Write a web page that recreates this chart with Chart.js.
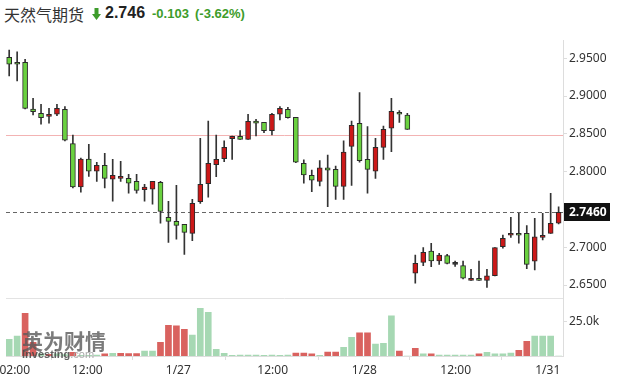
<!DOCTYPE html>
<html>
<head>
<meta charset="utf-8">
<script src="https://cdn.jsdelivr.net/npm/chart.js@4.4.0/dist/chart.umd.min.js"></script>
<style>
html, body { margin: 0; padding: 0; background: #fff; width: 625px; height: 392px; overflow: hidden; position: relative; }
#cv { position: absolute; left: -30px; top: 30px; }
.t { position: absolute; white-space: nowrap; }
</style>
</head>
<body>
<div class="t" style="left:4px;top:6px;font:16px/16px 'Noto Sans CJK SC';color:#333">天然气期货</div>
<svg class="t" style="left:92px;top:8px" width="9" height="12" viewBox="0 0 9 12"><path d="M2.5 0h4v6H9L4.5 12 0 6h2.5z" fill="#3d9c2b"/></svg>
<div class="t" style="left:105px;top:5px;font:bold 16px/16px 'Liberation Sans';color:#222">2.746</div>
<div class="t" style="left:152px;top:7px;font:bold 13px/13px 'Liberation Sans';color:#3d9c2b">-0.103</div>
<div class="t" style="left:195px;top:7px;font:bold 13px/13px 'Liberation Sans';color:#3d9c2b">(-3.62%)</div>
<canvas id="cv" width="655" height="362"></canvas>
<div class="t" style="left:22px;top:330px;font:bold 21px/21px 'Noto Sans CJK SC';color:rgba(90,90,90,0.8)">英为财情</div>
<div class="t" style="left:22px;top:349px;font:bold 11px/11px 'Liberation Sans';color:rgba(70,70,70,0.85)">Investing<span style="font-weight:normal;color:#aaa">.com</span></div>
<script>
// hourly candles, oldest first
const opens = [2.9513,2.9447,2.9447,2.8829,2.8772,2.8732,2.8759,2.8825,2.8370,2.7797,
  2.8167,2.8005,2.8084,2.7899,2.7912,2.7912,2.7872,2.7760,2.7767,2.7859,
  2.7396,2.7343,2.7303,2.7184,2.7602,2.7841,2.8092,2.8171,2.8436,2.8468,
  2.8428,2.8670,2.8653,2.8542,2.8759,2.8825,2.8719,2.8111,2.7952,2.7872,
  2.8052,2.8031,2.7806,2.8335,2.8640,2.8163,2.8005,2.8322,2.8574,2.8785,
  2.8750,2.6655,2.6800,2.6950,2.6818,2.6888,2.6775,2.6756,2.6562,2.6589,
  2.6562,2.6623,2.7006,2.7158,2.7184,2.7184,2.6814,2.7131,2.7184,2.7317];
const highs = [2.9610,2.9587,2.9487,2.8971,2.8891,2.8838,2.8891,2.8860,2.8485,2.8181,
  2.8362,2.8124,2.8243,2.8163,2.8137,2.7965,2.7965,2.7833,2.7872,2.7872,
  2.7608,2.7819,2.7303,2.7634,2.8441,2.8670,2.8485,2.8409,2.8472,2.8542,
  2.8759,2.8693,2.8653,2.8772,2.8860,2.8852,2.8719,2.8156,2.8022,2.8145,
  2.8220,2.8075,2.8409,2.8670,2.9045,2.8595,2.8441,2.8604,2.8971,2.8807,
  2.8772,2.6897,2.6994,2.7052,2.6919,2.6906,2.6818,2.6818,2.6708,2.6818,
  2.6708,2.6996,2.7162,2.7396,2.7449,2.7285,2.7383,2.7449,2.7713,2.7536];
const lows = [2.9266,2.9200,2.8829,2.8750,2.8627,2.8640,2.8740,2.8406,2.7784,2.7727,
  2.7938,2.7872,2.7784,2.7608,2.7872,2.7714,2.7714,2.7608,2.7568,2.7317,
  2.7065,2.7105,2.6906,2.7086,2.7581,2.7661,2.7933,2.8132,2.8163,2.8428,
  2.8428,2.8472,2.8515,2.8485,2.8684,2.8706,2.8120,2.7846,2.7735,2.7810,
  2.7536,2.7634,2.7634,2.7819,2.8124,2.7714,2.7912,2.8163,2.8264,2.8653,
  2.8560,2.6523,2.6756,2.6742,2.6773,2.6778,2.6747,2.6579,2.6562,2.6562,
  2.6469,2.6620,2.6986,2.7131,2.7052,2.6716,2.6699,2.7096,2.7184,2.7307];
const closes = [2.9421,2.9421,2.8838,2.8793,2.8714,2.8759,2.8838,2.8415,2.7797,2.8167,
  2.8005,2.8084,2.7912,2.7952,2.7938,2.7846,2.7753,2.7797,2.7872,2.7475,
  2.7343,2.7290,2.7197,2.7581,2.7833,2.8111,2.8163,2.8322,2.8468,2.8428,
  2.8666,2.8640,2.8542,2.8759,2.8838,2.8714,2.8124,2.7956,2.7886,2.8052,
  2.8018,2.7806,2.8260,2.8613,2.8145,2.8031,2.8322,2.8560,2.8799,2.8759,
  2.8560,2.6787,2.6933,2.6818,2.6897,2.6787,2.6773,2.6589,2.6589,2.6562,
  2.6623,2.6994,2.7118,2.7184,2.7158,2.6773,2.7139,2.7158,2.7317,2.7460];
// volume in thousands, and whether the bar is drawn as an up bar
const volumes = [12.1,14.6,31.1,10,1.5,1.2,1.5,1.0,2.7,0.5,
  0.5,0.7,1.5,1.9,1.9,1.7,1.7,3.6,3.6,10,
  22.4,21.9,19.4,15.3,34.7,31.8,4.9,1.9,0.4,0.7,
  0.7,0.7,0.4,0.7,0.5,0.7,2.2,2.2,1.5,0.5,
  2.9,2.9,6.3,13.6,16.8,16.8,8.7,9.2,29.2,3.6,
  0,5.6,1.5,1.5,0.7,0.7,0.7,0.7,0.7,1.5,
  2.7,1.5,1.5,2.2,4.1,10.7,14.6,14.6,14.6,0];
const volUp = [0,0,1,1,0,1,0,0,1,0,
  0,0,1,0,1,1,1,0,0,1,
  1,1,1,0,0,0,0,0,0,0,
  0,0,0,0,0,0,1,1,1,0,
  1,1,0,0,1,1,0,0,0,1,
  0,1,0,1,0,0,0,0,0,1,
  0,0,0,0,1,1,0,0,0,0];
const priceTicks = [2.65, 2.70, 2.75, 2.80, 2.85, 2.90, 2.95];
const volTicks = [25];
const xTickPos = [0.7, 9.81, 21.24, 33.09, 44.6, 56.07, 67.63];
const xTickLabels = ['02:00', '12:00', '1/27', '12:00', '1/28', '12:00', '1/31'];
const prevClose = 2.849;

const UP = '#cc1818', DOWN = '#6ad13f';
const idx = opens.map((_, i) => i);
const bodyColors = idx.map(i => Math.abs(closes[i] - opens[i]) < 0.0005 ? '#333' : (closes[i] >= opens[i] ? UP : DOWN));
const volColors = volUp.map(u => u ? '#d9625f' : '#a6d8b3');
const last = closes[closes.length - 1];

Chart.defaults.font.family = "'Noto Sans', sans-serif";
Chart.defaults.font.size = 12;
Chart.defaults.color = '#333';

const lines = {
  id: 'lines',
  beforeDatasetsDraw(chart) {
    const { ctx, chartArea: a, scales: { y } } = chart;
    ctx.save();
    ctx.lineWidth = 1;
    ctx.strokeStyle = '#e3e3e3';
    ctx.beginPath();
    ctx.moveTo(a.left, Math.round(y.bottom) + 0.5);
    ctx.lineTo(a.right, Math.round(y.bottom) + 0.5);
    ctx.stroke();
    // previous settlement
    const yp = Math.round(y.getPixelForValue(prevClose)) + 0.5;
    ctx.strokeStyle = '#f3b3b3';
    ctx.beginPath();
    ctx.moveTo(a.left, yp);
    ctx.lineTo(a.right, yp);
    ctx.stroke();
    // last price
    const yl = Math.round(y.getPixelForValue(last)) + 0.5;
    ctx.strokeStyle = '#666';
    ctx.setLineDash([4, 3]);
    ctx.beginPath();
    ctx.moveTo(a.left, yl);
    ctx.lineTo(a.right, yl);
    ctx.stroke();
    ctx.restore();
  },
  afterDraw(chart) {
    const { ctx, scales: { y } } = chart;
    const yl = Math.round(y.getPixelForValue(last));
    ctx.save();
    ctx.fillStyle = '#111';
    ctx.fillRect(y.left + 1, yl - 9, 46, 18);
    ctx.fillStyle = '#fff';
    ctx.font = "bold 12px 'Noto Sans'";
    ctx.textBaseline = 'middle';
    ctx.fillText(last.toFixed(4), y.left + 6, yl + 0.5);
    ctx.restore();
  }
};

new Chart(document.getElementById('cv'), {
  type: 'bar',
  data: {
    datasets: [
      {
        label: 'body',
        data: idx.map(i => ({ x: i, y: [opens[i], closes[i]] })),
        backgroundColor: bodyColors,
        borderColor: '#2a2a2a',
        borderWidth: 1,
        borderSkipped: false,
        barThickness: 5,
        minBarLength: 2,
        grouped: false,
        yAxisID: 'y',
        order: 1
      },
      {
        label: 'wick',
        data: idx.map(i => ({ x: i, y: [lows[i], highs[i]] })),
        backgroundColor: '#333',
        barThickness: 1,
        grouped: false,
        yAxisID: 'y',
        order: 2
      },
      {
        label: 'volume',
        data: idx.map(i => ({ x: i, y: volumes[i] })),
        backgroundColor: volColors,
        barThickness: 6,
        grouped: false,
        yAxisID: 'vol',
        order: 3
      }
    ]
  },
  options: {
    responsive: false,
    animation: false,
    devicePixelRatio: 1,
    layout: { padding: { left: 36, top: 10, right: 0, bottom: 0 } },
    plugins: { legend: { display: false }, tooltip: { enabled: false } },
    scales: {
      x: {
        type: 'linear',
        min: -0.4,
        max: 69.55,
        offset: false,
        afterBuildTicks: s => { s.ticks = xTickPos.map(v => ({ value: v })); },
        afterFit: s => { s.height = 36; },
        ticks: { autoSkip: false, maxRotation: 0, padding: 3, callback: (v, i) => xTickLabels[i] },
        grid: { drawOnChartArea: false, tickLength: 4, color: '#ddd' },
        border: { color: '#ddd' }
      },
      y: {
        type: 'linear',
        position: 'right',
        stack: 'p',
        stackWeight: 4.477,
        min: 2.6324,
        max: 2.9742,
        afterBuildTicks: s => { s.ticks = priceTicks.map(v => ({ value: v })); },
        afterFit: s => { s.width = 62; },
        ticks: { padding: 2, callback: v => v.toFixed(4) },
        grid: { drawOnChartArea: false, tickLength: 4, color: '#ddd' },
        border: { color: '#ddd' }
      },
      vol: {
        type: 'linear',
        position: 'right',
        stack: 'p',
        stackWeight: 1,
        min: 0,
        max: 42.05,
        afterBuildTicks: s => { s.ticks = volTicks.map(v => ({ value: v })); },
        afterFit: s => { s.width = 62; },
        ticks: { padding: 2, callback: v => v.toFixed(1) + 'k' },
        grid: { drawOnChartArea: false, tickLength: 4, color: '#ddd' },
        border: { color: '#ddd' }
      }
    }
  },
  plugins: [lines]
});
</script>
</body>
</html>
